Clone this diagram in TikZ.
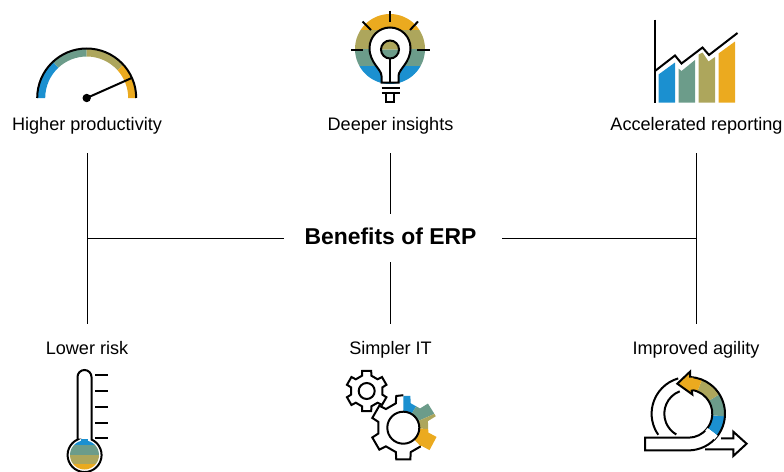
\documentclass[tikz,border=0pt]{standalone}
\usepackage{fontspec}
\setmainfont{Liberation Sans}
\definecolor{cb}{HTML}{1B90D0}
\definecolor{ct}{HTML}{6C9C8A}
\definecolor{co}{HTML}{ADA65C}
\definecolor{cy}{HTML}{EBAA1F}
\tikzset{
 lbl/.style={font=\fontsize{18.1}{20}\selectfont,text=black,inner sep=0pt,anchor=base},
 ttl/.style={font=\fontsize{22.9}{24}\selectfont\bfseries,text=black,inner sep=0pt,anchor=base},
 conn/.style={draw=black,line width=0.8pt},
 ink/.style={draw=black,line width=2pt,line join=miter},
 math/.style={y=1pt}
}
% annular sector: start angle, end angle, outer, inner, colour
\newcommand{\band}[5]{\fill[#5] (#1:#3) arc[start angle=#1,end angle=#2,radius=#3] -- (#2:#4) arc[start angle=#2,end angle=#1,radius=#4] -- cycle;}
\newcommand{\tooth}[3]{-- (#1+17:#3) -- (#1+12.5:#2) -- (#1-12.5:#2) -- (#1-17:#3)}
\begin{document}
\begin{tikzpicture}[x=1pt,y=-1pt]
\useasboundingbox (0,0) rectangle (784,471);
% labels
\node[lbl] (l1) at (87,130) {Higher productivity};
\node[lbl] (l2) at (390.5,130) {Deeper insights};
\node[lbl] (l3) at (696.5,130) {Accelerated reporting};
\node[lbl] (l4) at (87,354.7) {Lower risk};
\node[lbl] (l5) at (390.5,354.7) {Simpler IT};
\node[lbl] (l6) at (696,354.7) {Improved agility};
\node[ttl] (t) at (390.5,244.5) {Benefits of ERP};
% connectors
\coordinate (a1) at (87,153);\coordinate (a2) at (87,324);
\coordinate (b1) at (390.5,153);\coordinate (b2) at (390.5,214);
\coordinate (b3) at (390.5,262);\coordinate (b4) at (390.5,324);
\coordinate (c1) at (696.5,153);\coordinate (c2) at (696.5,324);
\coordinate (h1) at (87,238);\coordinate (h2) at (284,238);
\coordinate (h3) at (502,238);\coordinate (h4) at (696.5,238);
\draw[conn] (a1)--(a2);\draw[conn] (b1)--(b2);\draw[conn] (b3)--(b4);
\draw[conn] (c1)--(c2);\draw[conn] (h1)--(h2);\draw[conn] (h3)--(h4);
% gauge
\begin{scope}[shift={(86.7,98)},math]
 \band{180}{133}{49}{41.5}{cb}
 \band{133}{90}{49}{41.5}{ct}
 \band{90}{42}{49}{41.5}{co}
 \band{42}{0}{49}{41.5}{cy}
 \draw[black,line width=2pt] (-49.5,0) arc[start angle=180,end angle=0,radius=49.5];
 \draw[black,line width=2pt] (0,0)--(45,20);
 \fill[black] (0,0) circle (4.2);
\end{scope}
% bulb
\begin{scope}
 \clip (390,49) circle (35);
 \fill[cy] (350,10) rectangle (430,30);
 \fill[co] (350,30) rectangle (430,48.5);
 \fill[ct] (350,48.5) rectangle (430,66);
 \fill[cb] (350,66) rectangle (430,90);
\end{scope}
\draw[ink,fill=white] (381.5,82.5)--(381.5,76) .. controls (381.5,69) and (369.5,63) .. (369.5,48) arc[start angle=180,end angle=0,x radius=20.5,y radius=-20.5] .. controls (410.5,63) and (398.5,69) .. (398.5,76) -- (398.5,82.5)--cycle;
\fill[co] (381,49.5) arc[start angle=180,end angle=0,x radius=9,y radius=-9]--cycle;
\fill[ct] (381,49.5) arc[start angle=180,end angle=360,x radius=9,y radius=-9]--cycle;
\draw[ink] (390,49.5) circle (9);
\draw[ink] (390,58.5)--(390,82);
\draw[ink] (381.5,87.5)--(399.5,87.5);
\draw[ink] (381.5,93)--(399.5,93);
\draw[ink] (386,93) -- (386,101.5)--(394,101.5)--(394,93);
\draw[ink] (390,10.5)--(390,22);
\draw[ink] (351,49.5)--(363,49.5);
\draw[ink] (417,49.5)--(429.5,49.5);
\draw[ink] (362.5,21.5)--(371,30);
\draw[ink] (418,21.5)--(410,30);
% bars
\fill[cb] (658.5,74.5)--(675,62.5)--(675,102.5)--(658.5,102.5)--cycle;
\fill[ct] (678.5,68.5)--(681.5,71)--(695,60)--(695,102.5)--(678.5,102.5)--cycle;
\fill[co] (698.5,54.5)--(702.5,52.5)--(708.5,61.5)--(715,57)--(715,102.5)--(698.5,102.5)--cycle;
\fill[cy] (718.5,53.5)--(735,41.5)--(735,102.5)--(718.5,102.5)--cycle;
\draw[ink] (655,19.5)--(655,102.5);
\draw[ink] (655,71)--(675,55.5)--(681.5,63.5)--(702.5,47.5)--(709,55)--(737.5,33);
% thermometer
\begin{scope}
 \clip (84.5,455) circle (14.5);
 \fill[cb] (60,436) rectangle (110,444.5);
 \fill[ct] (60,444.5) rectangle (110,454.5);
 \fill[co] (60,454.5) rectangle (110,463.5);
 \fill[cy] (60,463.5) rectangle (110,471);
\end{scope}
\fill[cb] (80.7,438.5) rectangle (88.3,445);
\draw[ink] (77.5,439.5)--(77.5,377) arc[start angle=180,end angle=0,x radius=7,y radius=-7] -- (91.5,439.5) arc[start angle=66,end angle=-246,x radius=17,y radius=-17]--cycle;
\foreach \yy in {375.3,391,406.7,422.7,438.3}{\draw[ink] (95,\yy)--(107.5,\yy);}
% small gear
\begin{scope}[shift={(366.7,391)},math]
 \draw[ink,fill=white] (107:16) \tooth{90}{20.7}{16} \tooth{30}{20.7}{16} \tooth{-30}{20.7}{16} \tooth{-90}{20.7}{16} \tooth{-150}{20.7}{16} \tooth{-210}{20.7}{16} -- cycle;
 \draw[ink] (0,0) circle (8);
\end{scope}
% large gear
\begin{scope}[shift={(403.3,427.7)},math]
 \fill[white] (107:25.5) \tooth{90}{32.5}{25.5} \tooth{32}{34.5}{25.5} \tooth{-28}{34.5}{25.5} \tooth{-90}{32.5}{25.5} \tooth{-150}{32.5}{25.5} \tooth{-210}{32.5}{25.5} -- cycle;
 \foreach \s/\e/\c in {90/59/cb,59/24/ct,24/-3/co,-3/-47/cy}{
  \begin{scope}
   \clip (0,0) -- (\s:50) arc[start angle=\s,end angle=\e,radius=50] -- cycle;
   \fill[\c] (107:25.5) \tooth{90}{32.5}{25.5} \tooth{32}{34.5}{25.5} \tooth{-28}{34.5}{25.5} \tooth{-90}{32.5}{25.5} -- cycle;
  \end{scope}
 }
 \draw[ink] (-47:25.5) -- (-73:25.5) -- (-77.5:32.5) -- (-102.5:32.5) -- (-107:25.5)
   \tooth{-150}{32.5}{25.5} \tooth{-210}{32.5}{25.5} -- (107:25.5) -- (102.5:32.5) -- (90:32.5);
 \draw[ink,fill=white] (0,0) circle (16);
\end{scope}
% loop arrow
\begin{scope}[shift={(688.3,413.7)},math]
 \draw[ink] (106:36.7) arc[start angle=106,end angle=215,radius=36.7];
 \draw[ink] (111:24) arc[start angle=111,end angle=240,radius=24];
 \band{-37}{-4}{36.7}{24}{cb}
 \band{-4}{32}{36.7}{24}{ct}
 \band{32}{68}{36.7}{24}{co}
 \band{68}{86}{36.7}{24}{cy}
 \draw[ink] (-37:36.7) arc[start angle=-37,end angle=86,radius=36.7];
 \draw[ink] (-37:24) arc[start angle=-37,end angle=82,radius=24];
 \fill[cy] (-11,30) -- (1.7,42) -- (1.7,36) -- (5,36) -- (5,24) -- (3.3,24) -- (4,19.3) -- cycle;
 \draw[ink] (1.7,36) -- (1.7,42) -- (-11,30) -- (4,19.3) -- (3.3,24);
 \draw[ink,fill=white] (-37:24) arc[start angle=-37,end angle=-90,radius=24] -- (-43.3,-24) -- (-43.3,-36.7) -- (0,-36.7) arc[start angle=-90,end angle=-37,radius=36.7];
 \fill[white] (-37:24) -- (-37:36.7) -- (-45:36.7) -- (-45:24) -- cycle;
 \draw[ink,line join=miter] (32.7,-24.7) -- (45,-24.7) -- (45,-18) -- (58.3,-30) -- (45,-42.3) -- (45,-35.7) -- (16.7,-35.7);
\end{scope}
\end{tikzpicture}
\end{document}
